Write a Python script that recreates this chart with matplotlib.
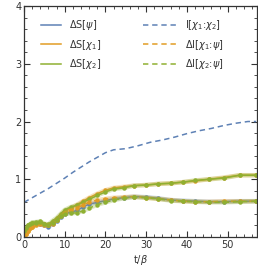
import matplotlib
matplotlib.use('Agg')
import matplotlib.pyplot as plt
from matplotlib.ticker import MultipleLocator

# Colours in Mathematica's default palette
BLUE = '#5E81B5'
ORANGE = '#E19C24'
GREEN = '#8FB032'

# Sample times of the entropy curves
t = [0, 0.5, 1, 1.5, 2, 3, 4, 5, 6, 7, 8, 9, 10, 11.5, 13, 14.5, 16, 18, 20,
     22, 24.5, 27, 30, 33, 36, 39, 42, 45.5, 49, 53, 57]

dS_psi = [0.1, 0.12, 0.15, 0.18, 0.2, 0.22, 0.22, 0.2, 0.18, 0.22, 0.28, 0.35,
          0.4, 0.43, 0.46, 0.52, 0.57, 0.6, 0.63, 0.66, 0.68, 0.7, 0.69, 0.67,
          0.64, 0.63, 0.62, 0.61, 0.61, 0.62, 0.62]
dS_chi1 = [0.02, 0.05, 0.1, 0.15, 0.18, 0.22, 0.24, 0.22, 0.2, 0.25, 0.3, 0.38,
           0.45, 0.5, 0.56, 0.62, 0.68, 0.75, 0.81, 0.85, 0.87, 0.89, 0.9, 0.92,
           0.93, 0.95, 0.97, 1.0, 1.03, 1.07, 1.07]
dS_chi2 = [0.1, 0.15, 0.2, 0.22, 0.25, 0.26, 0.27, 0.23, 0.22, 0.28, 0.33, 0.4,
           0.47, 0.52, 0.55, 0.6, 0.65, 0.72, 0.78, 0.83, 0.85, 0.89, 0.9, 0.92,
           0.93, 0.95, 0.98, 1.0, 1.02, 1.07, 1.07]
dI_chi1_psi = [0.0, 0.05, 0.1, 0.15, 0.18, 0.2, 0.22, 0.2, 0.2, 0.23, 0.3, 0.36,
               0.42, 0.46, 0.5, 0.56, 0.6, 0.64, 0.66, 0.68, 0.69, 0.7, 0.68,
               0.66, 0.64, 0.62, 0.61, 0.61, 0.62, 0.62, 0.62]
dI_chi2_psi = [0.1, 0.15, 0.2, 0.22, 0.25, 0.25, 0.26, 0.22, 0.2, 0.25, 0.3, 0.36,
               0.4, 0.41, 0.42, 0.45, 0.5, 0.56, 0.6, 0.64, 0.67, 0.69, 0.68,
               0.66, 0.63, 0.62, 0.61, 0.6, 0.6, 0.61, 0.62]

# Mutual information between the two halves
t_I = [0, 2, 4, 6, 8, 10, 12, 14, 16, 18, 20, 22, 25, 28, 31, 34, 37, 40, 43,
       46, 49, 52, 55, 57]
I_chi1_chi2 = [0.6, 0.68, 0.76, 0.84, 0.93, 1.02, 1.12, 1.21, 1.3, 1.38, 1.46,
               1.51, 1.53, 1.58, 1.64, 1.68, 1.73, 1.79, 1.84, 1.88, 1.93, 1.97,
               2.0, 2.0]

fig = plt.figure(figsize=(2.58, 2.68), dpi=100)
ax = fig.add_axes([24 / 258, 31 / 268, 233 / 258, 231 / 268])

dash = (0, (3.5, 2.5))


def curve(x, y, color, ls, label):
    # faint halo behind the line, like the Mathematica error band
    ax.plot(x, y, color=color, lw=3.2, alpha=0.3, ls='-', solid_capstyle='round')
    line, = ax.plot(x, y, color=color, lw=1.1, ls=ls, label=label,
                    marker='o', ms=2.2)
    return line


h1 = curve(t, dS_psi, BLUE, '-', r'$\Delta$S[$\psi$]')
h2 = curve(t, dS_chi1, ORANGE, '-', r'$\Delta$S[$\chi_1$]')
h3 = curve(t, dS_chi2, GREEN, '-', r'$\Delta$S[$\chi_2$]')
h4, = ax.plot(t_I, I_chi1_chi2, color=BLUE, lw=1.1, ls=dash, label=r'I[$\chi_1$:$\chi_2$]')
h5 = curve(t, dI_chi1_psi, ORANGE, dash, r'$\Delta$I[$\chi_1$:$\psi$]')
h6 = curve(t, dI_chi2_psi, GREEN, dash, r'$\Delta$I[$\chi_2$:$\psi$]')

ax.set_xlim(0, 57.2)
ax.set_ylim(0, 4)
ax.xaxis.set_major_locator(MultipleLocator(10))
ax.xaxis.set_minor_locator(MultipleLocator(2))
ax.yaxis.set_major_locator(MultipleLocator(1))
ax.yaxis.set_minor_locator(MultipleLocator(0.2))
ax.tick_params(which='both', direction='in', top=True, right=True,
               labelsize=7, colors='#333333', pad=2)
ax.tick_params(which='major', length=4, width=0.8)
ax.tick_params(which='minor', length=2, width=0.6)
for s in ax.spines.values():
    s.set_color('#333333')
    s.set_linewidth(0.9)

ax.set_xlabel(r't/$\beta$', fontsize=7, color='#333333', labelpad=2)

# two legend columns with different handle lengths, as in the original
leg1 = ax.legend([h1, h2, h3], [h.get_label() for h in (h1, h2, h3)],
                 loc='upper left', bbox_to_anchor=(0.035, 0.985), frameon=False,
                 fontsize=7, handlelength=2.1, labelspacing=0.55, handletextpad=0.8)
ax.add_artist(leg1)
leg2 = ax.legend([h4, h5, h6], [h.get_label() for h in (h4, h5, h6)],
                 loc='upper left', bbox_to_anchor=(0.475, 0.985), frameon=False,
                 fontsize=7, handlelength=3.7, labelspacing=0.55, handletextpad=0.6)
for leg in (leg1, leg2):
    for h in leg.legend_handles:
        h.set_marker('')
    for txt in leg.get_texts():
        txt.set_color('#333333')

fig.savefig('out.png', dpi=100)
